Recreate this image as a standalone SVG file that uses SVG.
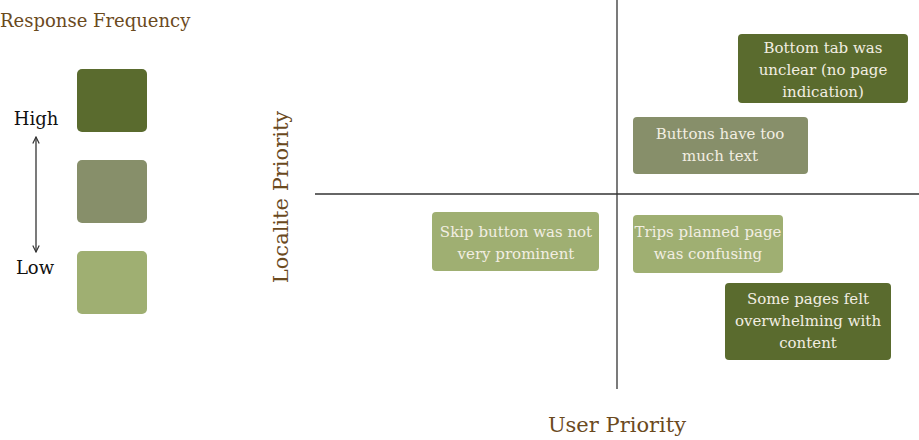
<svg xmlns="http://www.w3.org/2000/svg" width="919" height="440" viewBox="0 0 919 440">
<defs>
<style>
.t{font-family:"DejaVu Serif","Liberation Serif",serif;}
.ttl{fill:#6b4a1e;}
.lbl{fill:#111;font-size:18px;}
.box{font-size:15px;fill:#f2eee2;text-anchor:middle;}
.dark{fill:#5a6b2e;}
.mid{fill:#878f6a;}
.light{fill:#9faf72;}
.axis{stroke:#333;stroke-width:1.3;fill:none;}
</style>
<marker id="ah" viewBox="0 0 10 10" refX="9" refY="5" markerWidth="8" markerHeight="8" orient="auto-start-reverse" markerUnits="userSpaceOnUse">
<path d="M1,1 L9,5 L1,9" fill="none" stroke="#333" stroke-width="1.5"/>
</marker>
</defs>
<rect width="919" height="440" fill="#fff"/>
<g id="legend">
<text class="t ttl" x="0" y="27" font-size="18">Response Frequency</text>
<rect class="dark" x="77" y="69" width="70" height="63" rx="5"/>
<rect class="mid" x="77" y="160" width="70" height="63" rx="5"/>
<rect class="light" x="77" y="251" width="70" height="63" rx="5"/>
<text class="t lbl" x="36" y="125" text-anchor="middle">High</text>
<text class="t lbl" x="35" y="274" text-anchor="middle">Low</text>
</g>
<g id="connectors">
<line class="axis" x1="36" y1="137" x2="36" y2="252" marker-start="url(#ah)" marker-end="url(#ah)"/>
<line class="axis" x1="315" y1="194" x2="919" y2="194"/>
<line class="axis" x1="617" y1="0" x2="617" y2="389"/>
</g>
<g id="axis-labels">
<text class="t ttl" font-size="21" text-anchor="middle" transform="translate(288,197) rotate(-90)">Localite Priority</text>
<text class="t ttl" font-size="21" text-anchor="middle" x="617" y="432">User Priority</text>
</g>
<g id="n1">
<rect class="dark" x="738" y="34" width="170" height="69" rx="4"/>
<text class="t box" x="823" y="53">Bottom tab was</text>
<text class="t box" x="823" y="75">unclear (no page</text>
<text class="t box" x="823" y="97">indication)</text>
</g>
<g id="n2">
<rect class="mid" x="633" y="117" width="175" height="57" rx="4"/>
<text class="t box" x="720" y="139">Buttons have too</text>
<text class="t box" x="720" y="161">much text</text>
</g>
<g id="n3">
<rect class="light" x="432" y="212" width="167" height="59" rx="4"/>
<text class="t box" x="516" y="237">Skip button was not</text>
<text class="t box" x="516" y="259">very prominent</text>
</g>
<g id="n4">
<rect class="light" x="633" y="215" width="150" height="58" rx="4"/>
<text class="t box" x="708" y="237">Trips planned page</text>
<text class="t box" x="708" y="259">was confusing</text>
</g>
<g id="n5">
<rect class="dark" x="725" y="283" width="166" height="77" rx="4"/>
<text class="t box" x="808" y="304">Some pages felt</text>
<text class="t box" x="808" y="326">overwhelming with</text>
<text class="t box" x="808" y="348">content</text>
</g>
</svg>
